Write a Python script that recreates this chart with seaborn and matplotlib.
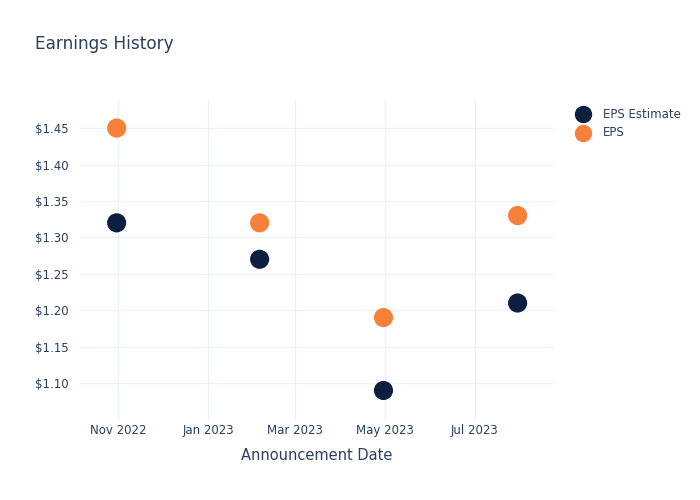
import matplotlib
matplotlib.use("Agg")
import matplotlib.pyplot as plt
import matplotlib.dates as mdates
import matplotlib.ticker as mticker
import seaborn as sns
import pandas as pd

dates = ["2022-10-31", "2023-02-05", "2023-04-30", "2023-07-30"]
eps_estimate = [1.32, 1.27, 1.09, 1.21]
eps_actual = [1.45, 1.32, 1.19, 1.33]

df = pd.DataFrame({
    "date": pd.to_datetime(dates * 2),
    "value": eps_estimate + eps_actual,
    "series": ["EPS Estimate"] * 4 + ["EPS"] * 4,
})

sns.set_theme(style="white")
plt.rcParams["font.family"] = ["DejaVu Sans"]
text_color = "#2a3f5f"
grid_color = "#edf1f8"

fig = plt.figure(figsize=(7, 5), dpi=100)
ax = fig.add_axes([0.114, 0.16, 0.676, 0.64])

sns.scatterplot(data=df, x="date", y="value", hue="series",
                palette={"EPS Estimate": "#0c1f3f", "EPS": "#f7803a"},
                s=190, linewidth=0, ax=ax, legend=False, zorder=3)

ax.set_xlim(pd.Timestamp("2022-10-06"), pd.Timestamp("2023-08-23"))
ax.set_ylim(1.0495, 1.4885)
ax.set_yticks([1.10, 1.15, 1.20, 1.25, 1.30, 1.35, 1.40, 1.45])
ax.yaxis.set_major_formatter(mticker.FuncFormatter(lambda v, p: f"${v:.2f}"))
ax.set_xticks(pd.to_datetime(["2022-11-01", "2023-01-01", "2023-03-01", "2023-05-01", "2023-07-01"]))
ax.xaxis.set_major_formatter(mdates.DateFormatter("%b %Y"))

for s in ax.spines.values():
    s.set_visible(False)
ax.grid(True, color=grid_color, linewidth=0.9)
ax.set_axisbelow(True)
ax.tick_params(axis="both", length=0, labelsize=8.5, colors=text_color, pad=8)
ax.tick_params(axis="x", pad=3)
ax.set_xlabel("Announcement Date", fontsize=10.5, color=text_color, labelpad=8)
ax.set_ylabel("")

fig.text(35 / 700, 1 - 44 / 500, "Earnings History", fontsize=12.2,
         color=text_color, va="center", ha="left")

# legend
for i, (lab, col) in enumerate([("EPS Estimate", "#0c1f3f"), ("EPS", "#f7803a")]):
    y = 1 - (114 + 19 * i) / 500
    fig.lines.append(plt.Line2D([583 / 700], [y], marker="o", markersize=11.5,
                                color=col, linestyle="none", transform=fig.transFigure))
    fig.text(603 / 700, y, lab, fontsize=8.5, color=text_color, va="center", ha="left")

fig.savefig("out.png", dpi=100, facecolor="white")
